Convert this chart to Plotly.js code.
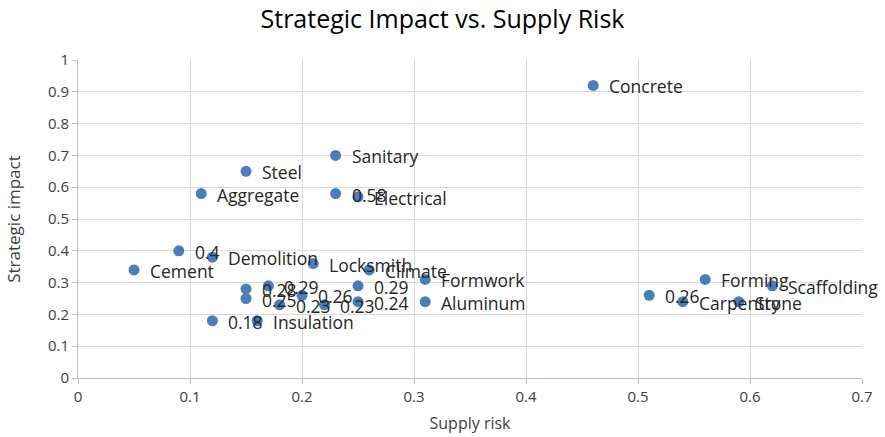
<!DOCTYPE html>
<html>
<head>
<meta charset="utf-8">
<script src="https://cdn.plot.ly/plotly-3.0.1.min.js"></script>
<style>html,body{margin:0;padding:0;background:#fff;}#chart{width:885px;height:437px;}</style>
</head>
<body>
<div id="chart"></div>
<script>
const labels = ["Concrete","Sanitary","Steel","Aggregate","0.58","Electrical","0.4","Demolition","Cement","Locksmith","Climate","Formwork","0.29","0.28","0.29","0.25","0.23","0.26","0.23","0.24","Aluminum","0.18","Insulation","0.26","Carpentry","Forming","Stone","Scaffolding"];
const supplyRisk = [0.46,0.23,0.15,0.11,0.23,0.25,0.09,0.12,0.05,0.21,0.26,0.31,0.25,0.15,0.17,0.15,0.18,0.20,0.22,0.25,0.31,0.12,0.16,0.51,0.54,0.56,0.59,0.62];
const strategicImpact = [0.92,0.70,0.65,0.58,0.58,0.57,0.40,0.38,0.34,0.36,0.34,0.31,0.29,0.28,0.29,0.25,0.23,0.26,0.23,0.24,0.24,0.18,0.18,0.26,0.24,0.31,0.24,0.29];

const fontFam = "Open Sans, Noto Sans, sans-serif";
const trace = {
  type: "scatter",
  mode: "markers",
  x: supplyRisk,
  y: strategicImpact,
  text: labels,
  marker: {color: "#4a7ebb", size: 11},
  cliponaxis: false,
  hoverinfo: "x+y+text"
};
const annotations = labels.map((t, i) => ({
  x: supplyRisk[i], y: strategicImpact[i], xref: "x", yref: "y",
  text: t, showarrow: false, xanchor: "left", yanchor: "middle",
  xshift: 14, yshift: -1,
  font: {family: fontFam, size: 17.5, color: "#262626"}
}));
const layout = {
  width: 885, height: 437,
  margin: {l: 78, r: 23, t: 60, b: 59},
  paper_bgcolor: "#fff", plot_bgcolor: "#fff",
  showlegend: false,
  annotations: annotations,
  title: {text: "Strategic Impact vs. Supply Risk", x: 0.5, xanchor: "center", y: 0.955, yanchor: "middle",
          font: {family: fontFam, size: 25, color: "#000"}},
  xaxis: {
    range: [0, 0.7], dtick: 0.1, tick0: 0,
    showgrid: true, gridcolor: "#d9d9d9", gridwidth: 1,
    zeroline: false, showline: true, linecolor: "#bfbfbf",
    ticks: "outside", ticklen: 5, tickcolor: "#bfbfbf",
    tickfont: {family: fontFam, size: 15, color: "#404040"},
    title: {text: "Supply risk", font: {family: fontFam, size: 16, color: "#404040"}, standoff: 12}
  },
  yaxis: {
    range: [0, 1], dtick: 0.1, tick0: 0,
    showgrid: true, gridcolor: "#d9d9d9", gridwidth: 1,
    zeroline: false, showline: true, linecolor: "#bfbfbf",
    ticks: "outside", ticklen: 5, tickcolor: "#bfbfbf",
    tickfont: {family: fontFam, size: 15, color: "#404040"},
    title: {text: "Strategic impact", font: {family: fontFam, size: 17, color: "#404040"}, standoff: 22}
  }
};
Plotly.newPlot("chart", [trace], layout, {displayModeBar: false, responsive: false});
</script>
</body>
</html>
